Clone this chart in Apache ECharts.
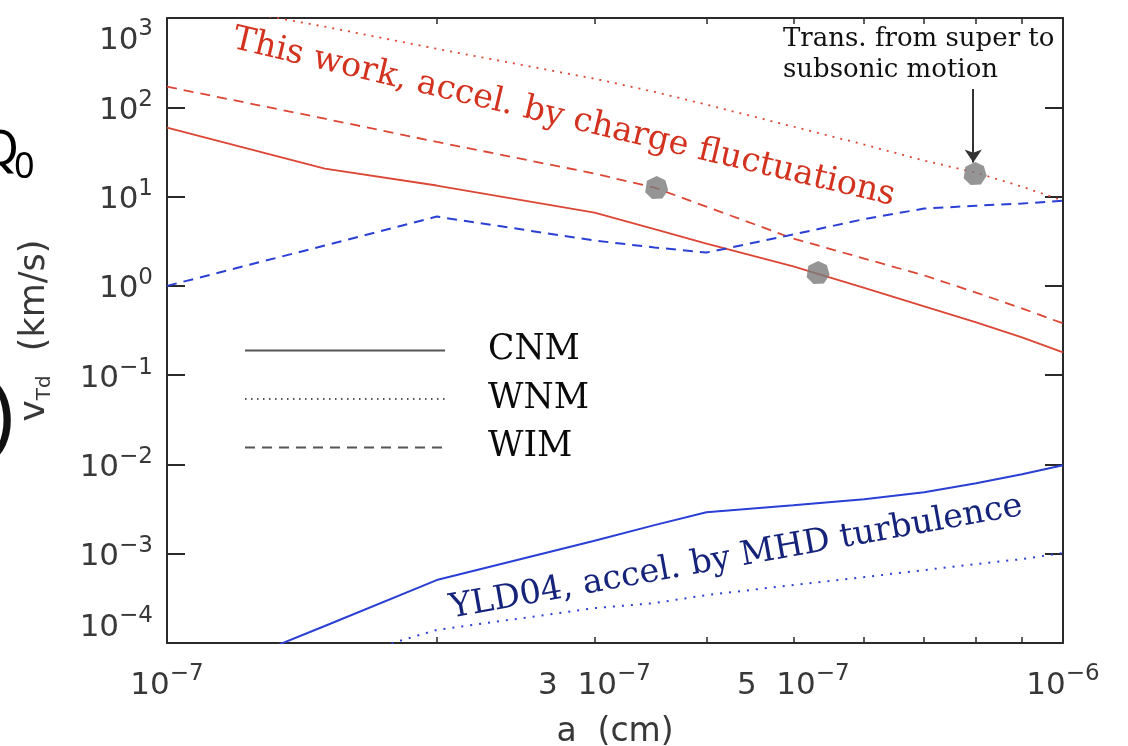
<!DOCTYPE html>
<html>
<head>
<meta charset="utf-8">
<script src="https://cdn.jsdelivr.net/npm/echarts@6/dist/echarts.min.js"></script>
<style>html,body{margin:0;padding:0;background:#fff}#c{width:1128px;height:746px}</style>
</head>
<body>
<div id="c"></div>
<script>
// grain size a (cm)
const aValues = [1e-7, 1.5e-7, 2e-7, 3e-7, 3.5e-7, 4e-7, 5e-7, 6e-7, 7e-7, 8e-7, 9e-7, 1e-6];
// This work, accel. by charge fluctuations (km/s)
const chargeCNM = [59, 20.6, 13.3, 6.6, 4.31, 2.98, 1.65, 0.95, 0.59, 0.39, 0.265, 0.18];
const chargeWNM = [1680, 800, 452, 209, 149, 107, 60.7, 38.2, 25.3, 18.5, 12.9, 9.0];
const chargeWIM = [170, 74.5, 41, 18.1, 12.6, 7.7, 3.39, 2.02, 1.31, 0.84, 0.56, 0.38];
// YLD04, accel. by MHD turbulence (km/s)
const mhdCNM = [2.98e-5, 1.55e-4, 5.07e-4, 1.40e-3, 2.09e-3, 2.92e-3, 3.5e-3, 4.08e-3, 4.89e-3, 6.17e-3, 7.77e-3, 9.8e-3];
const mhdWNM = [1.8e-5, 6e-5, 1.4e-4, 2.46e-4, 2.8e-4, 3.44e-4, 4.46e-4, 5.47e-4, 6.56e-4, 7.66e-4, 8.7e-4, 1.02e-3];
const mhdWIM = [1.0, 2.83, 5.97, 3.22, 2.69, 2.36, 3.76, 5.6, 7.34, 7.9, 8.35, 9.0];
// transition from super- to subsonic motion
const transA = [3.52e-7, 5.33e-7, 7.98e-7];
const transV = [12.6, 1.41, 18.1];
const arrowFrom = [7.94e-7, 160];
const arrowTo = [7.94e-7, 24];
// ticks
const xLabelValues = [1e-7, 3e-7, 5e-7, 1e-6];
const xLabelMantissa = ['', '3', '5', ''];
const xLabelExp = ['\u22127', '\u22127', '\u22127', '\u22126'];
const xMinorTicks = [2e-7, 3e-7, 4e-7, 5e-7, 6e-7, 7e-7, 8e-7, 9e-7];
const legendNames = ['CNM', 'WNM', 'WIM'];

const RED = '#dc4634';
const BLUE = '#2a3fd4';
const AX = '#2a2a2a';
const SANS = 'DejaVu Sans';
const SERIF = 'DejaVu Serif';
const TXT = '#383838';

function pairs(xs, ys) { return xs.map((x, i) => [x, ys[i]]); }

const supRich = {
  b: { fontSize: 31, fontFamily: SANS, color: TXT, lineHeight: 38, verticalAlign: 'bottom' },
  s: { fontSize: 23, fontFamily: SANS, color: TXT, lineHeight: 22, verticalAlign: 'top' }
};

function xLabel(v) {
  const i = xLabelValues.findIndex(t => Math.abs(t - v) / t < 1e-6);
  if (i < 0) return '';
  const m = xLabelMantissa[i];
  return (m ? '{b|' + m + '  10}' : '{b|10}') + '{s|' + xLabelExp[i] + '}';
}
function yLabel(v) {
  const e = Math.round(Math.log10(v));
  return '{b|10}{s|' + (e < 0 ? '\u2212' + (-e) : String(e)) + '}';
}

const chart = echarts.init(document.getElementById('c'), null, { renderer: 'canvas' });

const axisLine = { show: true, lineStyle: { color: AX, width: 2 } };

const lineSeries = (name, data, color, type, width) => ({
  name: name, type: 'line', data: data, xAxisIndex: 0, yAxisIndex: 0,
  symbol: 'none', clip: true, smooth: false,
  lineStyle: { color: color, width: width, type: type }
});

chart.setOption({
  animation: false,
  backgroundColor: '#fff',
  grid: { left: 167, right: 65, top: 18, bottom: 103, containLabel: false, outerBoundsMode: 'none' },
  legend: {
    orient: 'vertical', left: 244, top: 333, padding: 0,
    itemWidth: 200, itemHeight: 14, itemGap: 13.5,
    data: legendNames,
    itemStyle: { opacity: 0 },
    formatter: n => '{g|}{t|' + n + '}',
    textStyle: {
      rich: {
        g: { width: 38 },
        t: { fontSize: 34.5, fontFamily: SERIF, color: '#0a0a0a', lineHeight: 40 }
      }
    }
  },
  xAxis: [
    {
      type: 'log', logBase: 10, min: 1e-7, max: 1e-6, position: 'bottom',
      axisLine: axisLine,
      splitLine: { show: false },
      minorTick: { show: false },
      axisTick: { show: true, inside: true, length: 6, customValues: xMinorTicks, lineStyle: { color: AX, width: 1.5 } },
      axisLabel: { show: true, margin: 20, customValues: xLabelValues, formatter: xLabel, rich: supRich },
      name: 'a  (cm)', nameLocation: 'middle', nameGap: 73,
      nameTextStyle: { fontSize: 33, fontFamily: SANS, color: TXT }
    },
    {
      type: 'log', logBase: 10, min: 1e-7, max: 1e-6, position: 'top',
      axisLine: axisLine,
      splitLine: { show: false },
      axisTick: { show: true, inside: true, length: 6, customValues: xMinorTicks, lineStyle: { color: AX, width: 1.5 } },
      axisLabel: { show: false }
    }
  ],
  yAxis: [
    {
      type: 'log', logBase: 10, min: 1e-4, max: 1e3, position: 'left', splitNumber: 7,
      axisLine: axisLine,
      splitLine: { show: false },
      axisTick: { show: true, inside: true, length: 18, lineStyle: { color: AX, width: 2 } },
      axisLabel: { show: true, margin: 14, formatter: yLabel, rich: supRich,
        verticalAlignMinLabel: 'bottom', verticalAlignMaxLabel: 'top' },
      name: '{v|v}{t|Td}{g|}{n|(km/s)}', nameLocation: 'middle', nameGap: 112, nameRotate: 90,
      nameTextStyle: {
        rich: {
          v: { fontSize: 36, fontFamily: SANS, color: TXT, lineHeight: 40, verticalAlign: 'middle' },
          t: { fontSize: 20, fontFamily: SANS, color: TXT, lineHeight: 20, verticalAlign: 'bottom' },
          g: { width: 24 },
          n: { fontSize: 35, fontFamily: SANS, color: TXT, lineHeight: 40, verticalAlign: 'middle' }
        }
      }
    },
    {
      type: 'log', logBase: 10, min: 1e-4, max: 1e3, position: 'right', splitNumber: 7,
      axisLine: axisLine,
      splitLine: { show: false },
      axisTick: { show: true, inside: true, length: 18, lineStyle: { color: AX, width: 2 } },
      axisLabel: { show: false }
    }
  ],
  series: [
    lineSeries('chargeCNM', pairs(aValues, chargeCNM), RED, 'solid', 1.8),
    lineSeries('chargeWNM', pairs(aValues, chargeWNM), RED, [2, 6], 1.8),
    lineSeries('chargeWIM', pairs(aValues, chargeWIM), RED, [10, 7], 1.8),
    lineSeries('mhdCNM', pairs(aValues, mhdCNM), BLUE, 'solid', 2),
    lineSeries('mhdWNM', pairs(aValues, mhdWNM), BLUE, [2, 7], 2),
    lineSeries('mhdWIM', pairs(aValues, mhdWIM), BLUE, [10, 7], 2),
    {
      name: 'transition', type: 'scatter', data: pairs(transA, transV),
      symbol: 'path://M0,-10 L7.5,-6.5 L10,2 L5,9.5 L-4,10 L-10,4 L-8.5,-6 Z',
      symbolSize: 23, itemStyle: { color: '#7a7a7a' }, z: 5,
      markLine: {
        silent: true, symbol: ['none', 'arrow'], symbolSize: 13, z: 6,
        label: { show: false },
        lineStyle: { color: '#333', width: 2, type: 'solid' },
        data: [[{ coord: arrowFrom }, { coord: arrowTo }]]
      }
    },
    // legend keys (line styles)
    { name: 'CNM', type: 'line', data: [], symbol: 'none', lineStyle: { color: '#555', width: 2, type: 'solid' }, itemStyle: { color: '#555' } },
    { name: 'WNM', type: 'line', data: [], symbol: 'none', lineStyle: { color: '#555', width: 1.5, type: [1.5, 4.5] }, itemStyle: { color: '#555' } },
    { name: 'WIM', type: 'line', data: [], symbol: 'none', lineStyle: { color: '#555', width: 2, type: [10, 7] }, itemStyle: { color: '#555' } }
  ],
  graphic: [
    { type: 'text', x: 233, y: 39, rotation: -13.4 * Math.PI / 180,
      style: { text: 'This work, accel. by charge fluctuations', fontSize: 33.6, fontFamily: SERIF, fill: '#d2321e', align: 'left', verticalAlign: 'middle' } },
    { type: 'text', x: 450, y: 609, rotation: 10.2 * Math.PI / 180,
      style: { text: 'YLD04, accel. by MHD turbulence', fontSize: 33.5, fontFamily: SERIF, fill: '#15237a', align: 'left', verticalAlign: 'middle' } },
    { type: 'text', x: 783, y: 24,
      style: { text: 'Trans. from super to\nsubsonic motion', fontSize: 26, lineHeight: 31, fontFamily: SERIF, fill: '#111', align: 'left', verticalAlign: 'top' } },
    { type: 'text', x: 19, y: 151,
      style: { text: 'Q', fontSize: 50, fontFamily: 'Noto Sans', fill: '#000', align: 'right', verticalAlign: 'middle' } },
    { type: 'text', x: 14, y: 168,
      style: { text: '0', fontSize: 36, fontFamily: 'Noto Sans', fill: '#000', align: 'left', verticalAlign: 'middle' } },
    { type: 'text', x: 14, y: 420,
      style: { text: ')', fontSize: 82, fontFamily: 'Noto Sans', fill: '#111', align: 'right', verticalAlign: 'middle' } }
  ]
});
</script>
</body>
</html>
